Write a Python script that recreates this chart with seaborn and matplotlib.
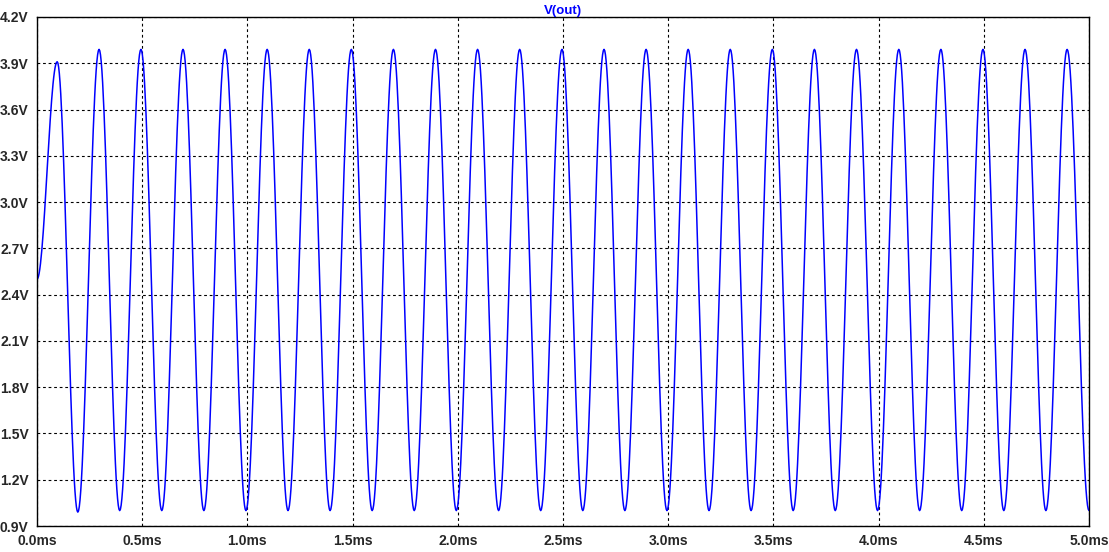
#!/usr/bin/env python3
"""Transient plot of V(out), styled like an LTspice waveform window."""
import numpy as np
import pandas as pd
import matplotlib
matplotlib.use('Agg')
import matplotlib.pyplot as plt
import seaborn as sns

# --- values --------------------------------------------------------------
start_time = 0.0          # ms
start_volt = 2.50         # V

peak_times = [0.096, 0.295, 0.494, 0.694, 0.894, 1.094, 1.294, 1.494, 1.694,
              1.894, 2.094, 2.294, 2.495, 2.695, 2.895, 3.095, 3.295, 3.495,
              3.695, 3.895, 4.096, 4.296, 4.496, 4.696, 4.896]
peak_volts = [3.91, 3.99, 3.99, 3.99, 3.99, 3.99, 3.99, 3.99, 3.99,
              3.99, 3.99, 3.99, 3.99, 3.99, 3.99, 3.99, 3.99, 3.99,
              3.99, 3.99, 3.99, 3.99, 3.99, 3.99, 3.99]

trough_times = [0.194, 0.393, 0.593, 0.793, 0.993, 1.193, 1.393, 1.593, 1.793,
                1.993, 2.194, 2.394, 2.594, 2.794, 2.994, 3.194, 3.394, 3.594,
                3.794, 3.995, 4.195, 4.395, 4.595, 4.795, 5.000]
trough_volts = [0.99, 1.00, 1.00, 1.00, 1.00, 1.00, 1.00, 1.00, 1.00,
                1.00, 1.00, 1.00, 1.00, 1.00, 1.00, 1.00, 1.00, 1.00,
                1.00, 1.00, 1.00, 1.00, 1.00, 1.00, 1.00]

x_ticks = [0.0, 0.5, 1.0, 1.5, 2.0, 2.5, 3.0, 3.5, 4.0, 4.5, 5.0]
x_labels = ['0.0ms', '0.5ms', '1.0ms', '1.5ms', '2.0ms', '2.5ms',
            '3.0ms', '3.5ms', '4.0ms', '4.5ms', '5.0ms']
y_ticks = [0.9, 1.2, 1.5, 1.8, 2.1, 2.4, 2.7, 3.0, 3.3, 3.6, 3.9, 4.2]
y_labels = ['0.9V', '1.2V', '1.5V', '1.8V', '2.1V', '2.4V',
            '2.7V', '3.0V', '3.3V', '3.6V', '3.9V', '4.2V']

TRACE = '#0000ff'


def build_trace():
    """Join consecutive extrema with smooth half-cosine segments."""
    ext_t = [start_time]
    ext_v = [start_volt]
    for pt, pv, tt, tv in zip(peak_times, peak_volts, trough_times, trough_volts):
        ext_t += [pt, tt]
        ext_v += [pv, tv]
    ts, vs = [], []
    s = np.linspace(0, 1, 30)
    for i in range(len(ext_t) - 1):
        t0, t1 = ext_t[i], ext_t[i + 1]
        v0, v1 = ext_v[i], ext_v[i + 1]
        seg_s = s if i == 0 else s[1:]
        ts.extend(t0 + (t1 - t0) * seg_s)
        vs.extend(v0 + (v1 - v0) * (1 - np.cos(np.pi * seg_s)) / 2)
    return pd.DataFrame({'time_ms': ts, 'volts': vs})


def main():
    sns.set_style('white')
    plt.rcParams['font.family'] = ['Liberation Sans', 'DejaVu Sans']

    df = build_trace()

    fig = plt.figure(figsize=(11.09, 5.52), dpi=100)
    ax = fig.add_axes([37 / 1109, 26 / 552, 1052 / 1109, 509 / 552])

    sns.lineplot(data=df, x='time_ms', y='volts', ax=ax, color=TRACE,
                 linewidth=1.1, sort=False, estimator=None)

    ax.set_xlim(0, 5)
    ax.set_ylim(0.9, 4.2)
    ax.set_xticks(x_ticks)
    ax.set_xticklabels(x_labels, fontsize=10, fontweight='bold')
    ax.set_yticks(y_ticks)
    ax.set_yticklabels(y_labels, fontsize=10, fontweight='bold')
    ax.set_xlabel('')
    ax.set_ylabel('')
    ax.tick_params(axis='both', direction='out', length=4.5, width=1,
                   color='black', pad=1.5)

    ax.grid(True, color='black', linestyle=(0, (2.5, 2.5)), linewidth=0.8)
    ax.set_axisbelow(True)
    for sp in ax.spines.values():
        sp.set_visible(True)
        sp.set_color('black')
        sp.set_linewidth(1.0)

    ax.set_title('V(out)', color=TRACE, fontsize=9.5, fontweight='bold', pad=2)

    fig.savefig('out.png', dpi=100, facecolor='white')
    plt.close(fig)


if __name__ == '__main__':
    main()
